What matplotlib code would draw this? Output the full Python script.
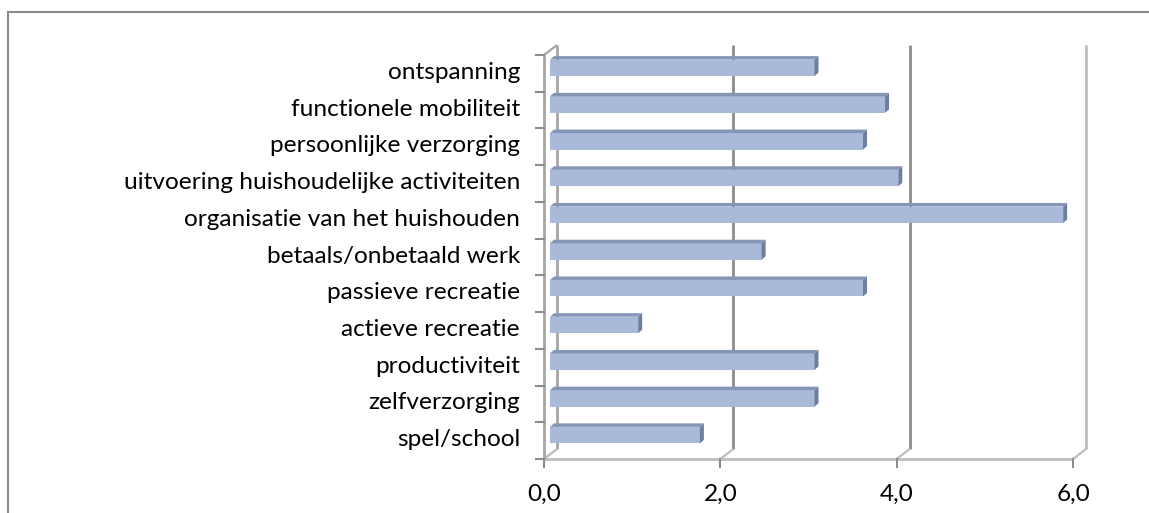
import matplotlib
matplotlib.use("Agg")
import matplotlib.pyplot as plt
import matplotlib.transforms as mtransforms
from matplotlib.patches import Polygon, Rectangle
from matplotlib.lines import Line2D

categories = ["spel/school", "zelfverzorging", "productiviteit", "actieve recreatie",
              "passieve recreatie", "betaals/onbetaald werk", "organisatie van het huishouden",
              "uitvoering huishoudelijke activiteiten", "persoonlijke verzorging",
              "functionele mobiliteit", "ontspanning"]
values = [1.7, 3.0, 3.0, 1.0, 3.55, 2.4, 5.82, 3.95, 3.55, 3.8, 3.0]
xticks = [0, 2, 4, 6]
xticklabels = ["0,0", "2,0", "4,0", "6,0"]

W, H = 1149, 513
fig = plt.figure(figsize=(W / 100, H / 100), dpi=100)
fig.patch.set_facecolor("white")

# outer chart border
fig.add_artist(Rectangle((8 / W, -0.1), 1.2, (H - 12) / H + 0.1, transform=fig.transFigure,
                         fill=False, edgecolor="#8a8a8a", linewidth=1.5))

# front plane of the plot: x 0..6 -> 544..1073 px, bands -> 55..459 px from top
x0, x1 = 544, 1073
ytop, ybot = 55, 459
ax = fig.add_axes([x0 / W, (H - ybot) / H, (x1 - x0) / W, (ybot - ytop) / H])
ax.set_xlim(0, 6)
ax.set_ylim(-0.5, len(categories) - 0.5)
ax.axis("off")

back = mtransforms.offset_copy(ax.transData, fig, x=13, y=10, units="dots")
mid = mtransforms.offset_copy(ax.transData, fig, x=6, y=5.5, units="dots")
ylo, yhi = -0.5, len(categories) - 0.5

grid_dark = "#8c8c8c"
grid_light = "#bdbdbd"

def seg(p, q, tp, tq, color, lw=1.6, z=1):
    a = tp.transform(p)
    b = tq.transform(q)
    fig.add_artist(Line2D([a[0], b[0]], [a[1], b[1]], transform=None,
                          color=color, linewidth=lw, zorder=z, solid_capstyle="butt"))

# back wall gridlines
for xv in xticks:
    col = grid_dark if xv in (2, 4) else grid_light
    if xv == 0:
        col = "#a6a6a6"
    seg((xv, ylo), (xv, yhi), back, back, col, lw=2.0)
    # floor diagonal
    seg((xv, ylo), (xv, ylo), ax.transData, back, grid_light, lw=1.6)

# left wall front edge + top diagonal
seg((0, ylo), (0, yhi), ax.transData, ax.transData, "#a6a6a6", lw=2.0)
seg((0, yhi), (0, yhi), ax.transData, back, "#a6a6a6", lw=1.6)
# floor front line
seg((0, ylo), (6, ylo), ax.transData, ax.transData, grid_light, lw=2.0)

# ticks on left axis (band boundaries)
for k in range(len(categories) + 1):
    yb = ylo + k
    p = ax.transData.transform((0, yb))
    fig.add_artist(Line2D([p[0] - 8, p[0]], [p[1], p[1]], transform=None,
                          color="#8c8c8c", linewidth=1.5))
# ticks on bottom axis
for xv in xticks:
    p = ax.transData.transform((xv, ylo))
    fig.add_artist(Line2D([p[0], p[0]], [p[1], p[1] - 8], transform=None,
                          color="#8c8c8c", linewidth=1.5))

# 3D-looking bars
face = "#a9b9d9"
topc = "#8595b5"
endc = "#6e7e9e"
half = 0.225
depth = (4.0, 3.5)
for i, v in enumerate(values):
    bl = mid.transform((0, i - half))
    tr = mid.transform((v, i + half))
    dx, dy = depth
    fig.add_artist(Polygon([[bl[0], bl[1]], [tr[0], bl[1]], [tr[0], tr[1]], [bl[0], tr[1]]],
                           closed=True, transform=None, facecolor=face, edgecolor="none", zorder=3))
    fig.add_artist(Polygon([[bl[0], tr[1]], [tr[0], tr[1]], [tr[0] + dx, tr[1] + dy], [bl[0] + dx, tr[1] + dy]],
                           closed=True, transform=None, facecolor=topc, edgecolor="none", zorder=3))
    fig.add_artist(Polygon([[tr[0], bl[1]], [tr[0], tr[1]], [tr[0] + dx, tr[1] + dy], [tr[0] + dx, bl[1] + dy]],
                           closed=True, transform=None, facecolor=endc, edgecolor="none", zorder=3))

# category labels
font = "Lato"
for i, c in enumerate(categories):
    p = ax.transData.transform((0, i))
    fig.text((p[0] - 24) / W, (p[1] + 1) / H, c, ha="right", va="center",
             fontsize=17.6, family=font, color="#000000")

# x tick labels
for xv, lab in zip(xticks, xticklabels):
    p = ax.transData.transform((xv, ylo))
    fig.text(p[0] / W, (p[1] - 35) / H, lab, ha="center", va="center",
             fontsize=17.6, family=font, color="#000000")

fig.savefig("out.png", dpi=100)
